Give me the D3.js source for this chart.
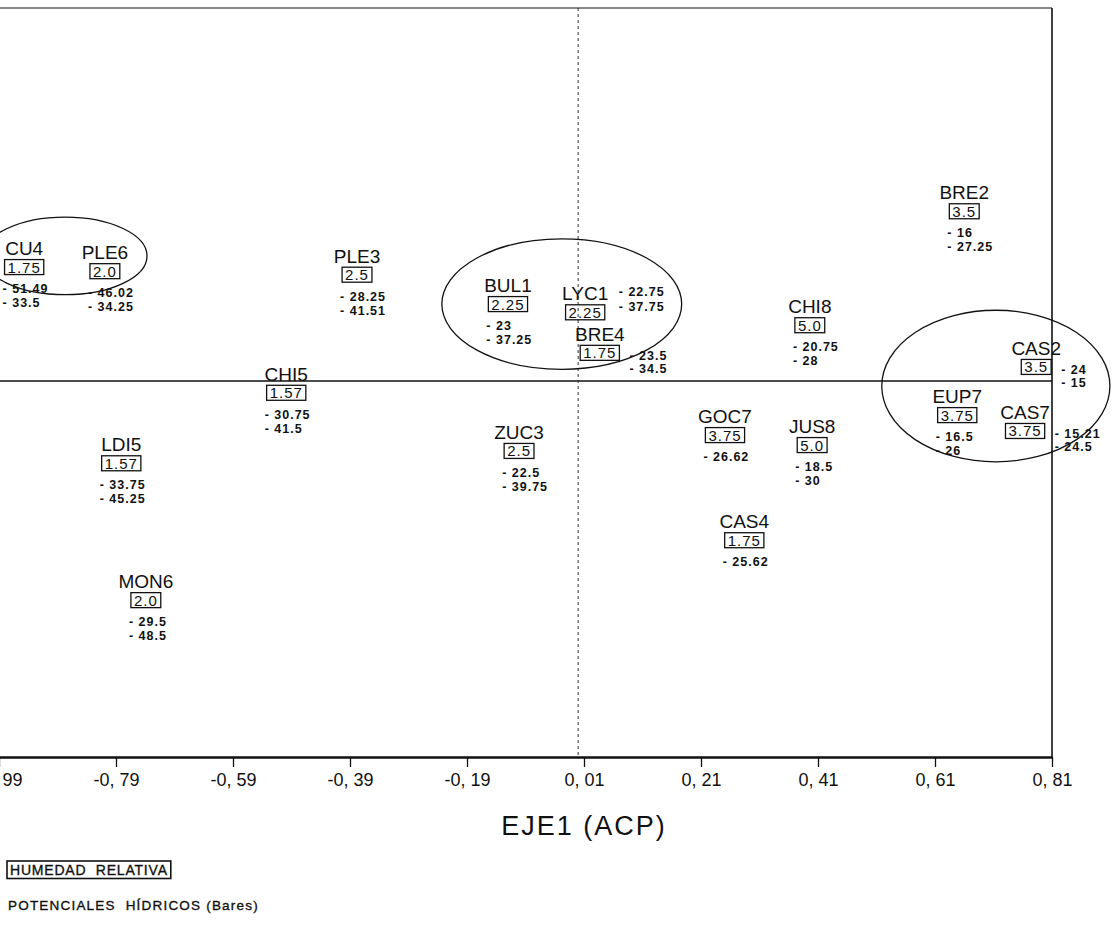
<!DOCTYPE html>
<html>
<head>
<meta charset="utf-8">
<script src="https://cdn.jsdelivr.net/npm/d3@7"></script>
<style>
  html, body { margin: 0; padding: 0; background: #fff; }
  svg { display: block; }
  text { font-family: "Liberation Sans", Arial, sans-serif; fill: #111; }
</style>
</head>
<body>
<svg id="chart" width="1112" height="929"></svg>
<script>
// Sites placed on the first two principal axes (ACP)
const sites = ["CU4", "PLE6", "PLE3", "BUL1", "LYC1", "BRE4", "CHI5", "LDI5", "MON6",
               "ZUC3", "GOC7", "JUS8", "CAS4", "BRE2", "CHI8", "CAS2", "EUP7", "CAS7"];
const eje1 = [-0.947, -0.809, -0.378, -0.120, 0.012, 0.037, -0.499, -0.781, -0.739,
              -0.101, 0.251, 0.400, 0.284, 0.660, 0.396, 0.783, 0.648, 0.764];
const eje2 = [0.194, 0.187, 0.181, 0.131, 0.117, 0.048, -0.020, -0.140, -0.373,
              -0.119, -0.092, -0.109, -0.271, 0.289, 0.095, 0.024, -0.058, -0.085];
// Relative humidity (boxed value)
const humedad = [1.75, 2.0, 2.5, 2.25, 2.25, 1.75, 1.57, 1.57, 2.0,
                 2.5, 3.75, 5.0, 1.75, 3.5, 5.0, 3.5, 3.75, 3.75];
// Water potentials (bars)
const potencial1 = [-51.49, -46.02, -28.25, -23, -22.75, -23.5, -30.75, -33.75, -29.5,
                    -22.5, -26.62, -18.5, -25.62, -16, -20.75, -24, -16.5, -15.21];
const potencial2 = [-33.5, -34.25, -41.51, -37.25, -37.75, -34.5, -41.5, -45.25, -48.5,
                    -39.75, null, -30, null, -27.25, -28, -15, -26, -24.5];
// Where the potentials are written relative to the humidity box
const valueSide = ["below", "below", "below", "below", "rightHigh", "right", "below", "below", "below",
                   "below", "below", "below", "below", "below", "below", "right", "below", "right"];

// Site groupings (ellipses), in axis units
const groupCx = [-0.877, -0.028, 0.714];
const groupCy = [0.213, 0.131, -0.0085];
const groupRx = [0.140, 0.205, 0.195];
const groupRy = [0.066, 0.111, 0.129];

const axisTicks = [-0.99, -0.79, -0.59, -0.39, -0.19, 0.01, 0.21, 0.41, 0.61, 0.81];

const svg = d3.select("#chart");

const x = d3.scaleLinear().domain([-0.99, 0.81]).range([-1, 1052]);
const y = d3.scaleLinear().domain([-0.64, 0.635]).range([757, 8]);

// Frame: top and right borders
svg.append("line")
  .attr("x1", x(-0.99)).attr("x2", x(0.81)).attr("y1", y(0.635)).attr("y2", y(0.635))
  .attr("stroke", "#111").attr("stroke-width", 1.2);
svg.append("line")
  .attr("x1", x(0.81)).attr("x2", x(0.81)).attr("y1", y(0.635)).attr("y2", y(-0.64))
  .attr("stroke", "#111").attr("stroke-width", 1.6);

// Origin lines
svg.append("line")
  .attr("x1", x(-0.99)).attr("x2", x(0.81)).attr("y1", y(0)).attr("y2", y(0))
  .attr("stroke", "#111").attr("stroke-width", 1.5);
svg.append("line")
  .attr("x1", x(0)).attr("x2", x(0)).attr("y1", y(0.635)).attr("y2", y(-0.64))
  .attr("stroke", "#333").attr("stroke-width", 1).attr("stroke-dasharray", "3,3");

// X axis
const fmtTick = v => (v < 0 ? "-" : "") + Math.abs(v).toFixed(2).replace(".", ", ");
const xAxis = d3.axisBottom(x).tickValues(axisTicks).tickFormat(fmtTick)
  .tickSize(10).tickSizeOuter(0).tickPadding(6);
const gx = svg.append("g").attr("transform", `translate(0,${y(-0.64)})`).call(xAxis);
gx.select(".domain").attr("stroke", "#111").attr("stroke-width", 2.6);
gx.selectAll(".tick line").attr("stroke", "#111").attr("stroke-width", 1.3);
gx.selectAll(".tick text")
  .attr("font-size", 18).attr("fill", "#111")
  .style("font-family", '"Liberation Sans", Arial, sans-serif');

svg.append("text")
  .attr("x", x(0.01)).attr("y", 835)
  .attr("text-anchor", "middle")
  .attr("font-size", 27).attr("letter-spacing", 2)
  .style("white-space", "pre")
  .text("EJE1 (ACP)");

// Grouping ellipses
svg.selectAll("ellipse.group")
  .data(d3.range(groupCx.length))
  .join("ellipse")
  .attr("class", "group")
  .attr("cx", i => x(groupCx[i]))
  .attr("cy", i => y(groupCy[i]))
  .attr("rx", i => x(groupRx[i]) - x(0))
  .attr("ry", i => y(0) - y(groupRy[i]))
  .attr("fill", "none").attr("stroke", "#111").attr("stroke-width", 1.3);

// Site labels
const fmtHum = v => (v % 1 === 0 ? v.toFixed(1) : String(v));
const fmtPot = v => "- " + Math.abs(v);

const g = svg.selectAll("g.site")
  .data(d3.range(sites.length))
  .join("g")
  .attr("class", "site")
  .attr("transform", i => `translate(${x(eje1[i])},${y(eje2[i])})`);

g.append("text")
  .attr("text-anchor", "middle").attr("y", -12)
  .attr("font-size", 19)
  .text(i => sites[i]);

g.each(function (i) {
  const sel = d3.select(this);
  const t = sel.append("text")
    .attr("text-anchor", "middle").attr("y", 5.5)
    .attr("font-size", 15).attr("letter-spacing", 1)
    .text(fmtHum(humedad[i]));
  const w = t.node().getComputedTextLength();
  const left = -w / 2 - 3, right = w / 2 + 3;
  sel.insert("rect", "text + text")
    .attr("x", left).attr("y", -7.5)
    .attr("width", right - left).attr("height", 15)
    .attr("fill", "none").attr("stroke", "#111").attr("stroke-width", 1.3);

  let vx, vy;
  if (valueSide[i] === "below") { vx = left - 2; vy = [26, 40]; }
  else if (valueSide[i] === "right") { vx = right + 10; vy = [7, 20]; }
  else { vx = right + 14; vy = [-16, -1]; }

  [potencial1[i], potencial2[i]].forEach((v, k) => {
    if (v === null) return;
    sel.append("text")
      .attr("x", vx).attr("y", vy[k])
      .attr("font-size", 12.5).attr("font-weight", "bold").attr("letter-spacing", 1)
      .style("white-space", "pre")
      .text(fmtPot(v));
  });
});

// Legend
const legend = svg.append("g");
const lt = legend.append("text")
  .attr("x", 10).attr("y", 875)
  .attr("font-size", 14).attr("letter-spacing", 0.8)
  .attr("stroke", "#111").attr("stroke-width", 0.35)
  .style("white-space", "pre")
  .text("HUMEDAD  RELATIVA");
const lw = lt.node().getComputedTextLength();
legend.append("rect")
  .attr("x", 7).attr("y", 861)
  .attr("width", lw + 6).attr("height", 17.5)
  .attr("fill", "none").attr("stroke", "#111").attr("stroke-width", 1.6);
legend.append("text")
  .attr("x", 8).attr("y", 910)
  .attr("font-size", 13.5).attr("letter-spacing", 1.2)
  .attr("stroke", "#111").attr("stroke-width", 0.35)
  .style("white-space", "pre")
  .text("POTENCIALES  HÍDRICOS (Bares)");
</script>
</body>
</html>
